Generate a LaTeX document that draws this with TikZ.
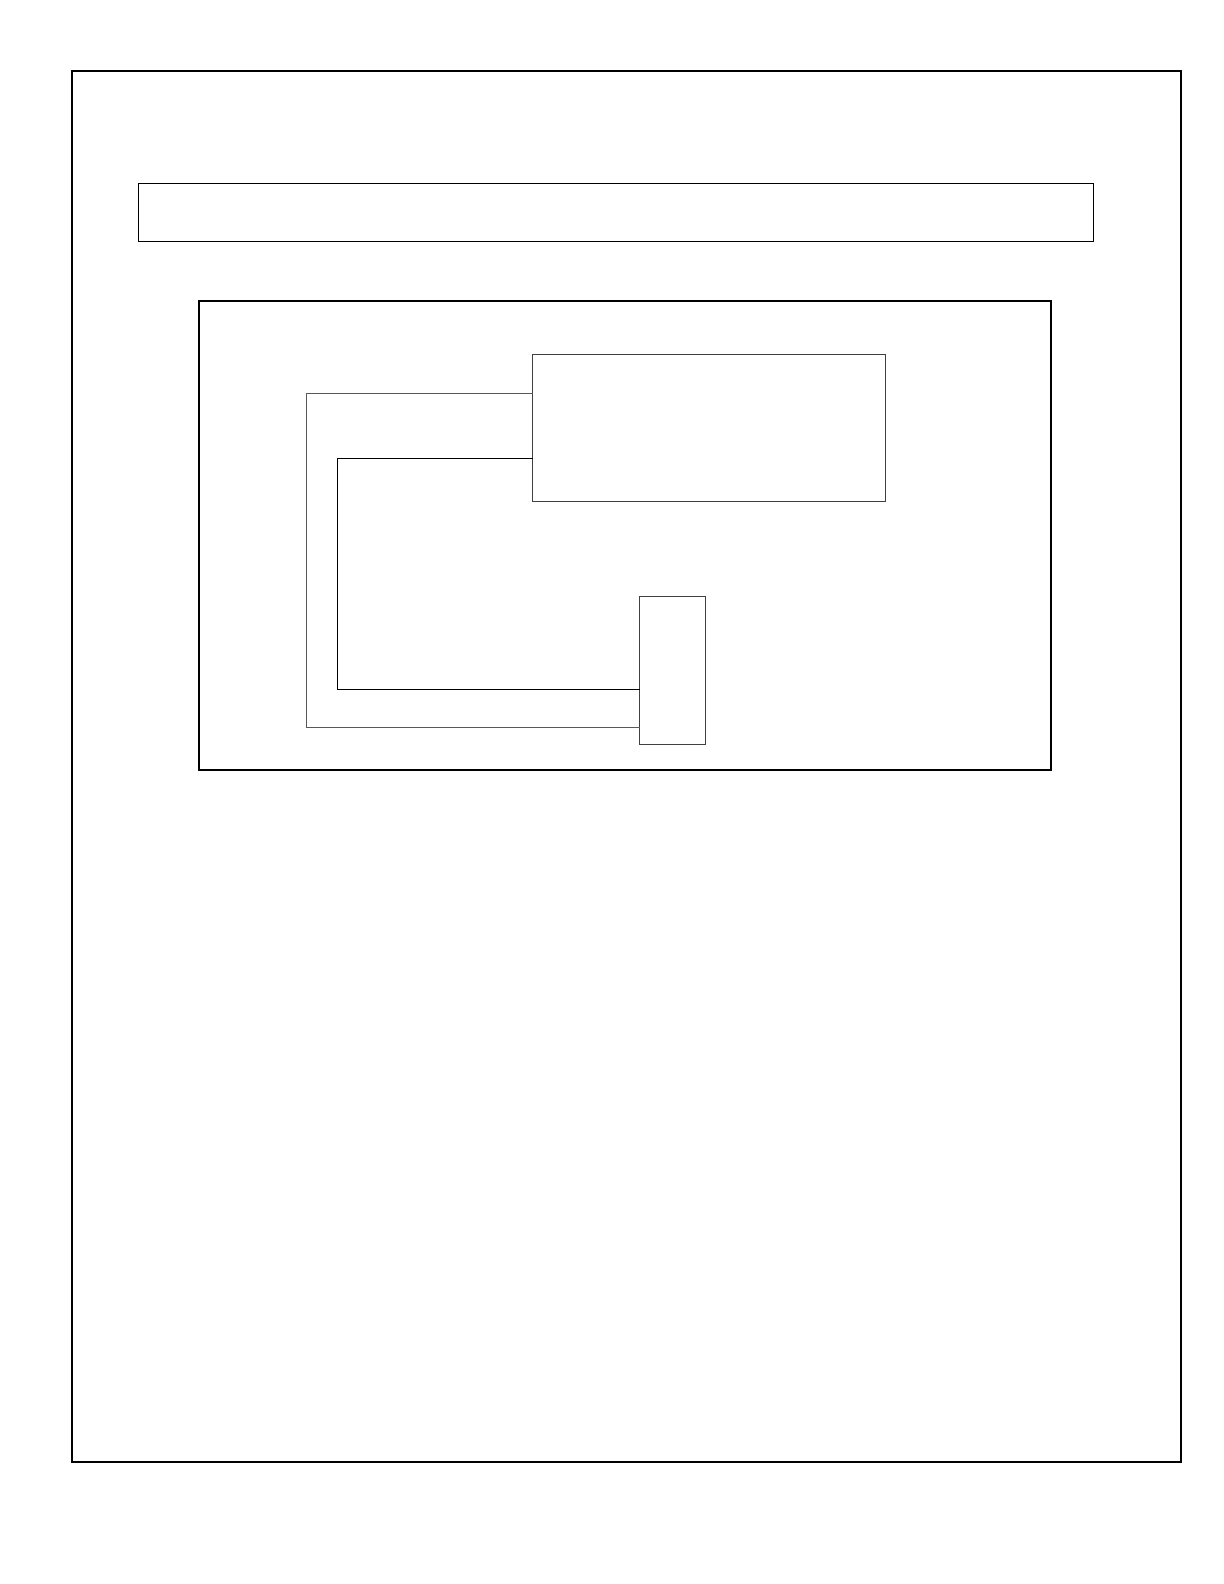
\documentclass[tikz,border=0pt]{standalone}
\usetikzlibrary{calc}
\tikzset{
	frame/.style={draw, line width=1bp, inner sep=0pt, outer sep=0pt},
	box/.style={draw, line width=0.5bp, inner sep=0pt, outer sep=0pt},
	wire/.style={line width=0.5bp},
}
\begin{document}
\begin{tikzpicture}[x=0.5bp, y=-0.5bp]
		%%%%% START %%%%%
		\useasboundingbox (0, 0) rectangle (1224, 1584);
		
		\node[frame, minimum width=554.25bp, minimum height=695.5bp] (sheet) at (626.25, 766.5) {};
		\node[box, minimum width=477.5bp, minimum height=28.85bp] (titlebar) at (615.8, 212.2) {};
		\node[frame, line width=0.8bp, minimum width=426bp, minimum height=234.5bp] (panel) at (625, 535.5) {};
		
		\node[box, black!75, minimum width=176.15bp, minimum height=73.15bp] (unit) at (708.85, 427.85) {};
		\node[box, black!75, minimum width=32.65bp, minimum height=74.35bp] (plug) at (672.35, 670.35) {};
		
		\coordinate (unitA) at (unit.west |- 0, 393.3);
		\coordinate (unitB) at (unit.west |- 0, 458);
		\coordinate (plugA) at (plug.west |- 0, 727.7);
		\coordinate (plugB) at (plug.west |- 0, 689);
		
		\draw[wire, black!65] (unitA) -- (306.3, 393.3) |- (plugA);
		\draw[wire] (unitB) -- (337.3, 458) |- (plugB);
		%%%%% END %%%%%
	\end{tikzpicture}
\end{document}
